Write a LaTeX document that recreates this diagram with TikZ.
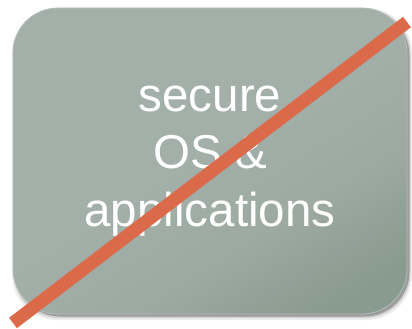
\documentclass[tikz,border=0pt]{standalone}
\usepackage{fontspec}
\newfontfamily\boxfont{Liberation Sans}
\definecolor{boxlight}{HTML}{A3B0A9}
\definecolor{boxmid}{HTML}{9DAAA2}
\definecolor{boxdark}{HTML}{899A8E}
\definecolor{boxedge}{HTML}{B3BEB8}
\definecolor{crossred}{HTML}{DB6A4A}
\pgfdeclarehorizontalshading{boxshade}{100bp}{color(0bp)=(boxlight); color(48bp)=(boxlight); color(63bp)=(boxmid); color(78bp)=(boxdark); color(100bp)=(boxdark)}
\tikzset{
  boxshape/.style={minimum width=394pt, minimum height=306pt, rounded corners=45pt, inner sep=0pt},
  boxfill/.style={boxshape, shading=boxshade, shading angle=-58, draw=boxedge, line width=0.8pt},
  shadowbox/.style={boxshape, fill=black, draw=none},
  boxlabel/.style={text=white, font=\boxfont\fontsize{47.5}{57.5}\selectfont, align=center, inner sep=0pt},
  crossline/.style={draw=crossred, line width=13pt}
}
\begin{document}
\begin{tikzpicture}[x=1pt,y=-1pt]
\useasboundingbox (0,0) rectangle (412,329);
\node[shadowbox, fill opacity=0.07, minimum width=400pt, minimum height=312pt] (sh1) at (212,164) {};
\node[shadowbox, fill opacity=0.12, minimum width=397pt, minimum height=309pt] (sh2) at (212,163.5) {};
\node[shadowbox, fill opacity=0.25] (sh3) at (212.5,163.5) {};
\node[boxfill] (box) at (210,161) {};
\node[boxlabel] (label) at (box.center) {secure\\OS \&\\applications};
\coordinate (a) at (13,323);
\coordinate (b) at (407,22);
\draw[crossline] (a) -- (b);
\end{tikzpicture}
\end{document}
